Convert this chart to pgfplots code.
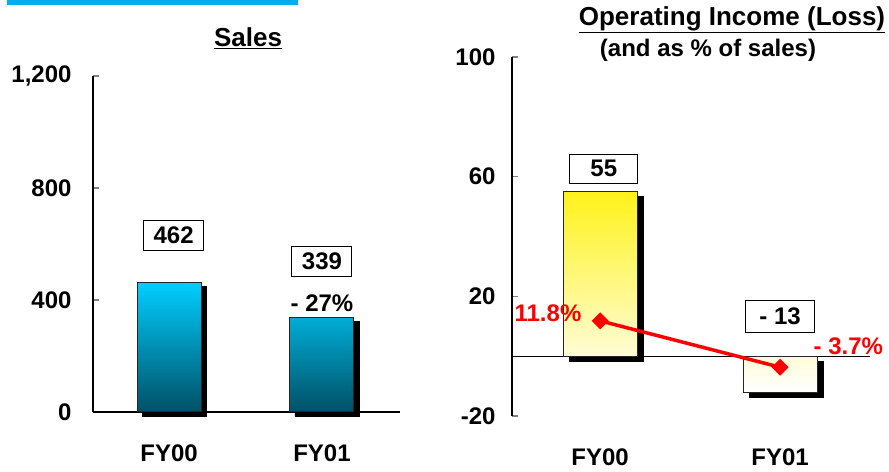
\documentclass[border=0pt]{standalone}
\usepackage{fontspec}
\setmainfont{Liberation Sans}
\usepackage{pgfplots}
\pgfplotsset{compat=1.18}
\newcommand\fs[1]{\fontsize{#1bp}{#1bp}\selectfont\bfseries}
\definecolor{cyantop}{RGB}{0,206,255}
\definecolor{tealbot}{RGB}{0,80,102}
\definecolor{yeltop}{RGB}{255,242,26}
\begin{document}
\begin{tikzpicture}[x=1bp,y=1bp]
\useasboundingbox (0,0) rectangle (889,472);
\fill[cyan] (7,467) rectangle (298,472);
\node[font=\fs{26}] at (248,434) {\underline{Sales}};
\node[font=\fs{26}] at (732,452) {\underline{Operating Income (Loss)}};
\node[font=\fs{24}] at (708,422) {(and as \% of sales)};
% Left: Sales
\begin{axis}[
  at={(93bp,60bp)}, anchor=south west, scale only axis,
  width=307bp, height=336bp,
  xmin=-0.497, xmax=1.51, ymin=0, ymax=1200,
  axis x line=bottom, axis y line=left,
  axis line style={-, line width=1.5bp},
  ytick={0,400,800,1200}, yticklabels={0,400,800,{1,200}},
  xtick={0,1}, xticklabels={FY00,FY01},
  x tick style={draw=none},
  y tick style={line width=1.2bp},
  tick align=inside, major tick length=6bp,
  yticklabel style={font=\fs{24}, xshift=-18bp},
  xticklabel style={font=\fs{24}, yshift=-23bp},
  /pgf/number format/assume math mode=true,
  ybar, clip=false,
]
\addplot[fill=black, draw=black, bar width=64bp, bar shift=0pt, xshift=5bp, yshift=-4bp] coordinates {(0,462) (1,339)};
\addplot[top color=cyantop, bottom color=tealbot, draw=black!85, line width=1bp, bar width=64bp, bar shift=0pt] coordinates {(0,462) (1,339)};
\node[font=\fs{24}, draw, line width=1bp, minimum width=60bp, minimum height=30bp, inner sep=0pt] at (axis cs:0.03,632) {462};
\node[font=\fs{24}, draw, line width=1bp, minimum width=60bp, minimum height=30bp, inner sep=0pt] at (axis cs:1.0,539) {339};
\node[font=\fs{24}] at (axis cs:1.0,389) {- 27\%};
\end{axis}
% Right: Operating income
\begin{axis}[
  at={(512bp,56bp)}, anchor=south west, scale only axis,
  width=358bp, height=359bp,
  xmin=-0.49, xmax=1.5, ymin=-20, ymax=100,
  axis x line*=bottom, axis y line=left,
  x axis line style={draw=none},
  y axis line style={-, line width=1.2bp},
  ytick={-20,20,60,100},
  xtick={0,1}, xticklabels={FY00,FY01},
  x tick style={draw=none},
  y tick style={line width=1.2bp},
  tick align=inside, major tick length=6bp,
  extra y ticks={0}, extra y tick labels={},
  extra y tick style={grid=major, major grid style={black, line width=1.2bp}, major tick length=0pt},
  yticklabel style={font=\fs{24}, xshift=-13bp},
  xticklabel style={font=\fs{24}, yshift=-23bp},
  /pgf/number format/assume math mode=true,
  ybar, clip=false,
]
\addplot[fill=black, draw=black, bar width=74bp, bar shift=0pt, xshift=6bp, yshift=-5bp] coordinates {(0,55) (1,-12)};
\addplot[top color=yeltop, bottom color=white, draw=black!85, line width=1bp, bar width=74bp, bar shift=0pt] coordinates {(0,55) (1,-12)};
\addplot[sharp plot, red, line width=3.5bp, mark=square*, mark size=5.5bp, mark options={fill=red, rotate=45, line width=1bp}] coordinates {(0,11.8) (1,-3.7)};
\node[font=\fs{24}, draw, line width=1bp, minimum width=68bp, minimum height=29bp, inner sep=0pt] at (axis cs:0.02,62.7) {55};
\node[font=\fs{24}, draw, line width=1bp, minimum width=69bp, minimum height=32bp, inner sep=0pt] at (axis cs:1.0,13.3) {- 13};
\node[font=\fs{24}, text=red] at (axis cs:-0.29,14.3) {11.8\%};
\node[font=\fs{24}, text=red] at (axis cs:1.38,3.3) {- 3.7\%};
\end{axis}
\end{tikzpicture}
\end{document}
